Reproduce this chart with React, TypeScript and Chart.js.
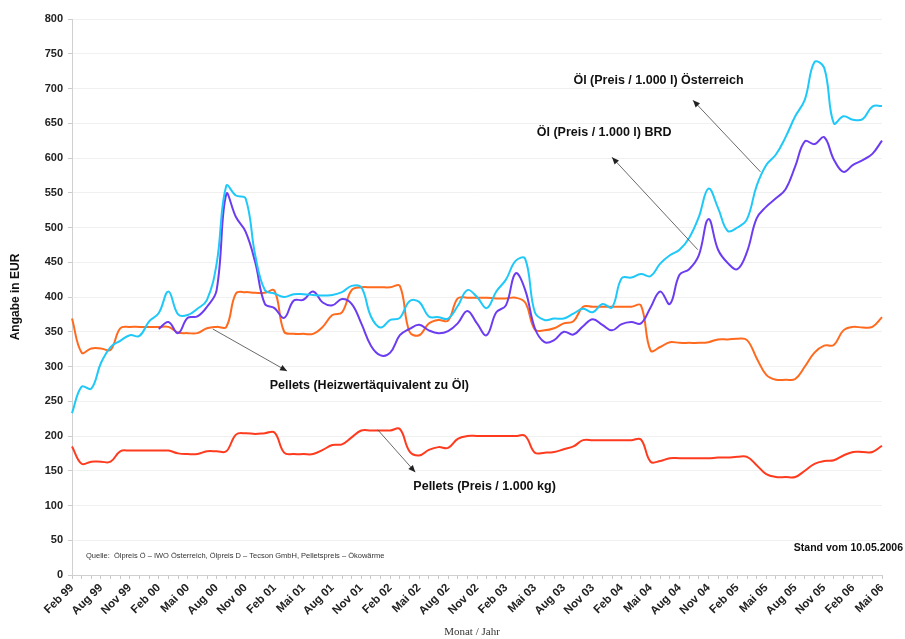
import React, { useEffect, useRef } from "react";
import { Chart, registerables } from "chart.js";

Chart.register(...registerables);

// ---- Data ----
const tickLabels = [
  "Feb 99", "Aug 99", "Nov 99", "Feb 00", "Mai 00", "Aug 00", "Nov 00", "Feb 01", "Mai 01", "Aug 01",
  "Nov 01", "Feb 02", "Mai 02", "Aug 02", "Nov 02", "Feb 03", "Mai 03", "Aug 03", "Nov 03", "Feb 04",
  "Mai 04", "Aug 04", "Nov 04", "Feb 05", "Mai 05", "Aug 05", "Nov 05", "Feb 06", "Mai 06",
];

// one category per data point; every third carries a tick label
const categories: string[] = tickLabels.flatMap((l, i) => (i < tickLabels.length - 1 ? [l, "", ""] : [l]));

const oelOesterreich = [
  233, 271, 268, 305, 328, 337, 345, 344, 365, 377,
  408, 375, 374, 383, 396, 448, 560, 546, 542, 460,
  410, 405, 400, 404, 404, 403, 402, 403, 407, 416,
  414, 372, 356, 367, 370, 394, 393, 372, 371, 369,
  387, 410, 400, 384, 408, 425, 452, 455, 378, 367,
  369, 369, 376, 383, 378, 390, 385, 427, 428, 433,
  430, 448, 460, 468, 485, 515, 556, 528, 495, 500,
  512, 560, 590, 605, 630, 660, 684, 738, 730, 650,
  660, 655, 656, 674, 675,
];

const oelBRD = [
  null, null, null, null, null, null, null, null, null, 354,
  364, 348, 370, 372, 386, 410, 548, 515, 494, 450,
  390, 384, 370, 395, 396, 408, 392, 388, 397, 390,
  362, 330, 316, 320, 345, 354, 360, 352, 348, 351,
  362, 380, 362, 345, 378, 388, 434, 410, 355, 335,
  338, 350, 346, 358, 368, 360, 352, 361, 364, 362,
  385, 408, 390, 432, 440, 460, 512, 468, 449, 440,
  465, 513, 530, 542, 555, 588, 624, 620, 630, 598,
  580, 590, 597, 606, 625,
];

const pelletsAequivalent = [
  369, 320, 326, 326, 324, 355, 357, 357, 357, 357,
  357, 349, 348, 348, 355, 357, 357, 405, 407, 406,
  406, 409, 350, 347, 347, 347, 357, 374, 378, 410,
  414, 414, 414, 414, 416, 350, 345, 362, 367, 366,
  398, 399, 399, 399, 398, 398, 399, 392, 353, 352,
  355, 362, 365, 386, 386, 386, 386, 386, 386, 388,
  323, 328, 335, 334, 334, 334, 335, 339, 339, 340,
  338, 312, 288, 281, 281, 282, 300, 320, 330, 331,
  352, 357, 356, 357, 371,
];

const pelletsPreis = [
  185, 160, 163, 163, 163, 178, 179, 179, 179, 179,
  179, 175, 174, 174, 178, 178, 178, 202, 204, 203,
  204, 205, 176, 174, 174, 174, 180, 187, 188, 198,
  208, 208, 208, 208, 210, 178, 172, 180, 184, 183,
  196, 200, 200, 200, 200, 200, 200, 200, 176, 176,
  177, 181, 185, 194, 194, 194, 194, 194, 194, 195,
  163, 164, 168, 168, 168, 168, 168, 169, 169, 170,
  170, 158, 145, 141, 141, 141, 150, 160, 164, 165,
  172, 177, 177, 177, 186,
];

// annotations in data coordinates: [category index, value]
const arrowNotes = [
  { from: [71.4, 580], to: [64.4, 683] },
  { from: [64.9, 468], to: [56.0, 601] },
  { from: [14.6, 354], to: [22.3, 293.5] },
  { from: [31.7, 209], to: [35.6, 148] },
];
const textNotes = [
  { text: "Öl (Preis / 1.000 l) Österreich", at: [52.0, 712] },
  { text: "Öl (Preis / 1.000 l) BRD", at: [48.2, 636] },
  { text: "Pellets (Heizwertäquivalent zu Öl)", at: [20.5, 273] },
  { text: "Pellets (Preis / 1.000 kg)", at: [35.4, 127] },
];
const sourceText = "Quelle:  Ölpreis Ö – IWO Österreich, Ölpreis D – Tecson GmbH, Pelletspreis – Ökowärme";
const standText = "Stand vom 10.05.2006";
const yTitle = "Angabe in EUR";
const xTitle = "Monat / Jahr";

const SANS = "'Liberation Sans', Arial, sans-serif";

function drawArrow(ctx: CanvasRenderingContext2D, x1: number, y1: number, x2: number, y2: number) {
  ctx.beginPath();
  ctx.moveTo(x1, y1);
  ctx.lineTo(x2, y2);
  ctx.stroke();
  const a = Math.atan2(y2 - y1, x2 - x1);
  const L = 7, W = 3;
  ctx.beginPath();
  ctx.moveTo(x2, y2);
  ctx.lineTo(x2 - L * Math.cos(a) + W * Math.sin(a), y2 - L * Math.sin(a) - W * Math.cos(a));
  ctx.lineTo(x2 - L * Math.cos(a) - W * Math.sin(a), y2 - L * Math.sin(a) + W * Math.cos(a));
  ctx.closePath();
  ctx.fill();
}

const notesPlugin = {
  id: "notes",
  afterDatasetsDraw(chart: any) {
    const { ctx, scales, chartArea } = chart;
    const x = scales.x, y = scales.y;
    const px = (v: number) => x.getPixelForValue(v);
    const py = (v: number) => y.getPixelForValue(v);
    ctx.save();
    ctx.strokeStyle = "#444";
    ctx.fillStyle = "#222";
    ctx.lineWidth = 0.8;
    for (const a of arrowNotes) {
      drawArrow(ctx, px(a.from[0]), py(a.from[1]), px(a.to[0]), py(a.to[1]));
    }
    ctx.fillStyle = "#111";
    ctx.font = `bold 12.5px ${SANS}`;
    ctx.textAlign = "left";
    ctx.textBaseline = "middle";
    for (const t of textNotes) {
      ctx.fillText(t.text, px(t.at[0]), py(t.at[1]));
    }
    ctx.font = `7.5px ${SANS}`;
    ctx.fillStyle = "#333";
    ctx.fillText(sourceText, px(1.45), py(27));
    ctx.font = `bold 10.5px ${SANS}`;
    ctx.fillStyle = "#111";
    ctx.textAlign = "right";
    ctx.fillText(standText, chartArea.right + 21, py(39));
    // axis titles
    ctx.font = `11px 'Liberation Serif', 'Times New Roman', serif`;
    ctx.fillStyle = "#333";
    ctx.textAlign = "center";
    ctx.fillText(xTitle, (chartArea.left + chartArea.right) / 2 - 5, 632);
    ctx.translate(16, (chartArea.top + chartArea.bottom) / 2);
    ctx.rotate(-Math.PI / 2);
    ctx.font = `bold 12px ${SANS}`;
    ctx.fillStyle = "#111";
    ctx.fillText(yTitle, 0, 0);
    ctx.restore();
  },
};

export default function App() {
  const ref = useRef<HTMLCanvasElement>(null);
  useEffect(() => {
    document.body.style.margin = "0";
    const line = (data: (number | null)[], color: string) => ({
      data,
      borderColor: color,
      backgroundColor: color,
      borderWidth: 2,
      pointRadius: 0,
      tension: 0.4,
      fill: false,
      spanGaps: false,
    });
    const chart = new Chart(ref.current!, {
      type: "line",
      data: {
        labels: categories,
        datasets: [
          { label: "Öl (Preis / 1.000 l) Österreich", ...line(oelOesterreich, "#1ec8f8") },
          { label: "Öl (Preis / 1.000 l) BRD", ...line(oelBRD, "#6b3cf0") },
          { label: "Pellets (Heizwertäquivalent zu Öl)", ...line(pelletsAequivalent, "#ff6a1e") },
          { label: "Pellets (Preis / 1.000 kg)", ...line(pelletsPreis, "#ff3b1f") },
        ],
      },
      options: {
        responsive: false,
        animation: false,
        layout: { padding: { top: 19, right: 23, bottom: 0, left: 0 } },
        plugins: { legend: { display: false }, tooltip: { enabled: false } },
        scales: {
          x: {
            type: "category",
            offset: false,
            grid: { drawOnChartArea: false, drawTicks: true, tickLength: 4, color: "#c8c8c8" },
            border: { color: "#d0d0d0" },
            ticks: {
              autoSkip: false,
              maxRotation: 45,
              minRotation: 45,
              padding: 2,
              color: "#222",
              font: { family: SANS, size: 11.5, weight: "bold" },
              callback: (_v: any, i: number) => categories[i],
            },
            afterFit: (s: any) => {
              s.height = 64;
            },
          },
          y: {
            min: 0,
            max: 800,
            grid: { color: "#f0f0f0", tickColor: "#cccccc", tickLength: 4 },
            border: { color: "#d0d0d0" },
            ticks: {
              stepSize: 50,
              padding: 5,
              color: "#222",
              font: { family: SANS, size: 11, weight: "bold" },
            },
            afterFit: (s: any) => {
              s.width = 72;
            },
          },
        },
      },
      plugins: [notesPlugin],
    } as any);
    return () => chart.destroy();
  }, []);
  return (
    <div style={{ width: 905, height: 639 }}>
      <canvas ref={ref} width={905} height={639} style={{ display: "block" }} />
    </div>
  );
}
